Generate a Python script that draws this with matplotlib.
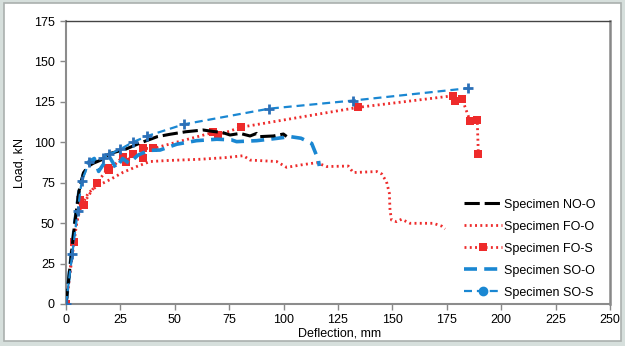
import numpy as np
import matplotlib as mpl
mpl.use('Agg')
import matplotlib.pyplot as plt
from matplotlib.lines import Line2D
from matplotlib.patches import Rectangle

plt.rcParams['font.family'] = ['Liberation Sans', 'DejaVu Sans']

# Specimen NO-O
no_o_x = [0, 2, 4, 6, 8, 10, 12.5, 16, 20, 27, 34, 42, 48, 55, 63, 67.6, 72, 75.4, 80, 84.6, 87.6, 89, 95.3, 99.9, 101.4]
no_o_y = [0, 25, 50, 70, 81, 85, 87, 89, 93, 95.5, 99.5, 103.5, 105, 106.5, 107.6, 106.7, 106, 104.5, 105.5, 103.9, 105.5, 103.5, 103.9, 105.1, 103.6]

# Specimen FO-O
fo_o_x = [0, 1.8, 2.6, 4.1, 6.4, 10.2, 14.1, 20.2, 26.3, 32.5, 38.6, 46.3, 61.6, 73, 81.5, 84.6, 96.8, 101.4, 108, 115.2, 119.8, 129.7,
          132, 142.8, 145.1, 147.3, 148.6, 148.9, 149.6, 151.9, 154.2, 158.1, 168.8, 172.6, 174.2]
fo_o_y = [0, 19, 31.5, 46, 58.3, 68.6, 72.8, 76.9, 81.5, 85, 88.1, 88.7, 89.5, 90.5, 91.7, 89, 88.1, 84.5, 86, 87.4, 85, 85.3,
          81.3, 81.9, 80.4, 75.6, 68.5, 58.1, 51.9, 50.9, 52.4, 49.9, 49.9, 48.2, 46.4]

# Specimen FO-S
fo_s_x = [0, 3.7, 6.4, 8.4, 7.6, 14.1, 19.4, 19.8, 26.3, 27.6, 30.6, 35.2, 35.2, 40.1, 67.7, 70, 80.3, 134.3, 178, 178.9, 182.1, 185.7, 189, 189.5]
fo_s_y = [0, 38.1, 64.6, 61.4, 61.2, 74.8, 83.9, 82.9, 91.2, 87.6, 92.8, 90, 96.2, 96.2, 106.1, 104.5, 109.3, 121.6, 128.8, 125.8, 126.6, 113.2, 113.6, 92.6]

# Specimen SO-O
so_o_x = [0, 2, 4, 6, 8, 10.5, 13, 15, 17, 20, 23, 26, 29, 33, 38, 43.2, 50.9, 60, 69.3, 76, 78.4, 87.6, 96.8, 103, 108, 112.9, 116, 116.4]
so_o_y = [0, 25, 50, 70, 80, 88, 90, 82, 86, 91, 84, 90, 87, 92, 95, 95.2, 98.8, 101, 101.9, 101.5, 100.4, 101, 102.4, 103.5, 102.5, 99.3, 89, 85.3]

# Specimen SO-S
so_s_x = [0, 2.9, 5.4, 7.2, 10.6, 16.9, 19.9, 24.8, 30.6, 37.4, 54.1, 93.4, 131.8, 184.6]
so_s_y = [0, 31, 57.7, 76, 87.6, 90, 92.6, 95.6, 100, 103.9, 111.1, 120.8, 125.8, 133.4]

red = '#ee2b2b'
blue = '#1a87d2'
blue_mk = '#2b70b8'
dots = (0, (0.7, 1.2))
long_dash = (0, (3.6, 2))
black_dash = (0, (5, 1.6))
fine_dash = (0, (3.6, 2.2))

fig = plt.figure(figsize=(6.25, 3.46), dpi=100)
fig.patch.set_facecolor('#d6dfdc')
fig.patches.append(Rectangle((4 / 625, 5 / 346), 617 / 625, 338 / 346, transform=fig.transFigure,
                             facecolor='white', edgecolor='#aab0ae', linewidth=1.2, zorder=-10))
ax = fig.add_axes([66 / 625, 42 / 346, 544 / 625, 283 / 346])

ax.plot(fo_o_x, fo_o_y, color=red, linestyle=dots, linewidth=2, zorder=2)
ax.plot(fo_s_x, fo_s_y, color=red, linestyle=dots, linewidth=2, marker='s',
        markersize=5.5, markeredgewidth=0, zorder=3)
ax.plot(so_o_x, so_o_y, color=blue, linestyle=long_dash, linewidth=2.6, zorder=4)
ax.plot(no_o_x, no_o_y, color='black', linestyle=black_dash, linewidth=2.2, zorder=5)
ax.plot(so_s_x, so_s_y, color=blue, linestyle=fine_dash, linewidth=1.6, marker='+',
        markersize=7, markeredgewidth=2, markeredgecolor=blue_mk, zorder=6)

ax.set_xlim(0, 250)
ax.set_ylim(0, 175)
ax.set_xticks(np.arange(0, 251, 25))
ax.set_yticks(np.arange(0, 176, 25))
ax.tick_params(axis='both', labelsize=9, colors='#888888', labelcolor='black', length=4, width=1)
ax.tick_params(axis='y', pad=4)
for s in ['left', 'bottom']:
    ax.spines[s].set_color('#8c8c8c')
    ax.spines[s].set_linewidth(1.5)
ax.spines['top'].set_color('#444444')
ax.spines['top'].set_linewidth(1.0)
ax.spines['right'].set_color('#888888')
ax.spines['right'].set_linewidth(1.8)

ax.set_xlabel('Deflection, mm', fontsize=9, labelpad=0)
ax.xaxis.set_label_coords(0.502, -0.082)
ax.set_ylabel('Load, kN', fontsize=9, labelpad=6)

handles = [
    Line2D([], [], color='black', linestyle=black_dash, linewidth=2.2),
    Line2D([], [], color=red, linestyle=dots, linewidth=2),
    Line2D([], [], color=red, linestyle=dots, linewidth=2, marker='s', markersize=5.5, markeredgewidth=0),
    Line2D([], [], color=blue, linestyle=long_dash, linewidth=2.6),
    Line2D([], [], color=blue, linestyle=fine_dash, linewidth=1.6, marker='o', markersize=6),
]
labels = ['Specimen NO-O', 'Specimen FO-O', 'Specimen FO-S', 'Specimen SO-O', 'Specimen SO-S']
ax.legend(handles, labels, loc='lower right', bbox_to_anchor=(0.99, -0.012), frameon=False,
          fontsize=9, handlelength=3.0, handletextpad=0.2, labelspacing=0.8, borderaxespad=0.3)

fig.savefig('out.png', dpi=100, facecolor=fig.get_facecolor())
